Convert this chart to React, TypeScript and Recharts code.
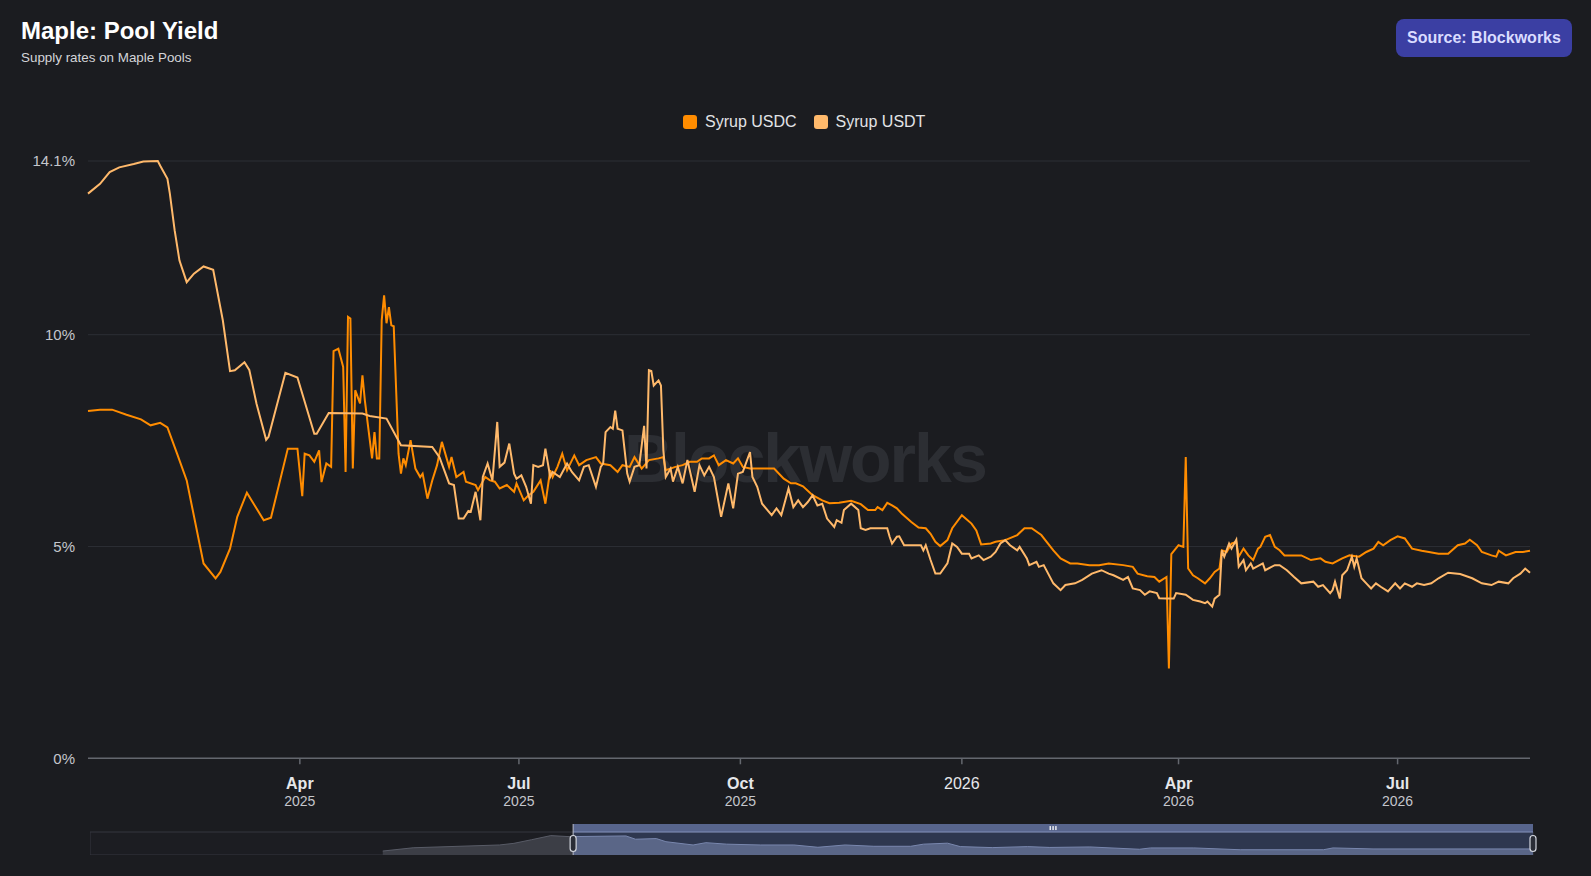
import React from "react";
import {
  LineChart,
  Line,
  XAxis,
  YAxis,
  CartesianGrid,
  ComposedChart,
  Area,
  ReferenceArea,
  ReferenceLine,
  ReferenceDot,
} from "recharts";

// [days since 2025-01-01, supply rate %]
const usdcSeries: [number, number][] = [
  [2, 8.2], [7, 8.23], [12, 8.23], [18, 8.11], [24, 8.0], [28, 7.86], [32, 7.92], [35, 7.81],
  [39, 7.19], [43, 6.56], [50, 4.6], [55, 4.25], [57, 4.4], [61, 4.95], [64, 5.7], [68, 6.27],
  [75, 5.62], [78, 5.68], [85, 7.31], [89, 7.31], [91, 6.19], [92, 7.19], [94, 7.15], [96, 7.0],
  [98, 7.27], [99, 6.52], [101, 6.96], [103, 6.88], [104, 9.61], [106, 9.67], [108, 9.24],
  [109, 6.76], [110, 10.42], [111, 10.38], [112, 6.84], [113, 8.69], [115, 8.38], [116, 9.04],
  [117, 8.45], [120, 7.08], [121, 7.7], [122, 7.08], [123, 7.08], [124, 10.34], [125, 10.93],
  [126, 10.27], [127, 10.65], [128, 10.22], [129, 10.2], [131, 7.19], [132, 6.72], [133, 7.08],
  [134, 6.92], [136, 7.51], [138, 6.84], [140, 6.64], [141, 6.72], [143, 6.13], [145, 6.56],
  [147, 6.92], [149, 7.47], [152, 6.88], [153, 7.11], [155, 6.64], [158, 6.76], [159, 6.53],
  [163, 6.45], [164, 6.33], [167, 6.64], [169, 6.56], [171, 6.53], [173, 6.37], [176, 6.45],
  [179, 6.29], [180, 6.49], [183, 6.09], [185, 6.21], [187, 6.29], [190, 6.56], [192, 6.01],
  [194, 6.8], [195, 6.64], [197, 6.88], [199, 7.19], [201, 6.8], [204, 7.15], [206, 6.92],
  [209, 7.04], [213, 7.11], [215, 6.96], [219, 6.92], [222, 6.76], [224, 6.92], [227, 6.88],
  [229, 7.11], [232, 6.84], [235, 7.04], [239, 7.08], [241, 7.11], [242, 6.8], [246, 6.88],
  [249, 6.92], [252, 7.0], [255, 7.0], [257, 7.08], [260, 7.08], [262, 7.15], [264, 6.92],
  [267, 7.04], [270, 6.96], [272, 7.08], [274, 6.88], [277, 6.84], [281, 6.84], [287, 6.84],
  [291, 6.6], [294, 6.49], [296, 6.49], [299, 6.42], [303, 6.21], [307, 6.09], [310, 6.02],
  [314, 6.03], [319, 6.08], [323, 6.0], [326, 5.86], [329, 5.86], [330, 5.93], [332, 5.86],
  [334, 6.03], [336, 5.97], [338, 5.9], [340, 5.78], [344, 5.58], [347, 5.45], [350, 5.43],
  [352, 5.3], [354, 5.11], [356, 5.01], [359, 5.15], [361, 5.43], [365, 5.74], [369, 5.54],
  [371, 5.38], [373, 5.05], [377, 5.07], [379, 5.11], [383, 5.15], [388, 5.27], [391, 5.43],
  [394, 5.43], [398, 5.27], [403, 4.91], [406, 4.72], [410, 4.6], [413, 4.6], [418, 4.56],
  [422, 4.56], [426, 4.6], [432, 4.56], [436, 4.52], [438, 4.36], [442, 4.3], [445, 4.28],
  [447, 4.17], [450, 4.28], [451, 2.12], [452, 4.82], [455, 5.03], [457, 4.99], [458, 7.11],
  [459, 4.48], [461, 4.32], [463, 4.25], [466, 4.13], [468, 4.25], [470, 4.4], [472, 4.48],
  [473, 4.91], [475, 4.87], [477, 5.07], [479, 5.11], [480, 4.76], [482, 4.95], [484, 4.79],
  [486, 4.68], [488, 4.95], [489, 4.99], [491, 5.23], [493, 5.27], [495, 4.99], [497, 4.91],
  [499, 4.79], [503, 4.79], [506, 4.79], [510, 4.68], [514, 4.72], [516, 4.64], [519, 4.6],
  [523, 4.72], [526, 4.79], [530, 4.76], [533, 4.87], [536, 4.95], [538, 5.11], [540, 5.03],
  [543, 5.15], [546, 5.24], [549, 5.19], [552, 4.95], [556, 4.9], [559, 4.87], [563, 4.83],
  [567, 4.83], [571, 5.03], [574, 5.07], [576, 5.16], [579, 5.03], [581, 4.87], [585, 4.79],
  [587, 4.76], [588, 4.9], [591, 4.79], [595, 4.87], [598, 4.87], [601, 4.9],
];

const usdtSeries: [number, number][] = [
  [2, 13.33], [7, 13.56], [11, 13.84], [15, 13.95], [21, 14.03], [25, 14.09], [31, 14.1],
  [32, 13.99], [35, 13.68], [36, 13.33], [38, 12.46], [40, 11.75], [43, 11.24], [46, 11.44],
  [50, 11.61], [54, 11.53], [58, 10.34], [61, 9.14], [63, 9.16], [67, 9.35], [69, 9.17],
  [72, 8.37], [76, 7.52], [77, 7.59], [84, 9.1], [89, 8.99], [96, 7.66], [97, 7.66], [102, 8.15],
  [116, 8.14], [119, 8.08], [126, 8.02], [132, 7.39], [145, 7.35], [148, 7.11], [152, 6.49],
  [154, 6.45], [156, 5.66], [158, 5.66], [160, 5.84], [161, 5.82], [163, 6.29], [165, 5.62],
  [166, 6.64], [168, 6.96], [170, 6.56], [172, 7.94], [173, 6.88], [175, 6.98], [177, 7.43],
  [179, 6.72], [180, 6.6], [182, 6.68], [184, 6.41], [186, 6.01], [187, 6.92], [189, 6.88],
  [191, 6.92], [192, 7.31], [194, 6.64], [195, 6.76], [198, 6.64], [201, 6.96], [203, 6.76],
  [206, 6.56], [208, 6.88], [210, 6.92], [213, 6.41], [215, 6.88], [216, 6.96], [217, 7.7],
  [219, 7.82], [220, 7.78], [221, 8.21], [222, 7.78], [224, 7.74], [226, 6.72], [227, 6.53],
  [229, 6.88], [231, 6.92], [233, 7.85], [234, 6.84], [235, 9.16], [236, 9.14], [237, 8.8],
  [239, 8.92], [240, 8.8], [241, 7.27], [242, 6.64], [244, 6.84], [245, 6.53], [247, 6.88],
  [249, 6.49], [251, 7.04], [254, 6.29], [256, 6.92], [258, 6.68], [260, 6.88], [262, 6.64],
  [265, 5.7], [268, 6.49], [270, 5.9], [272, 6.72], [274, 6.76], [277, 7.23], [278, 6.64],
  [280, 6.41], [282, 6.01], [286, 5.74], [288, 5.9], [290, 5.74], [293, 6.37], [295, 5.93],
  [297, 6.09], [299, 5.93], [301, 6.05], [303, 6.21], [305, 5.97], [307, 6.01], [309, 5.66],
  [312, 5.46], [313, 5.62], [315, 5.56], [316, 5.86], [319, 6.01], [322, 5.86], [323, 5.43],
  [325, 5.39], [327, 5.43], [334, 5.43], [335, 5.23], [336, 5.07], [338, 5.23], [339, 5.24],
  [341, 5.03], [348, 5.03], [349, 4.91], [350, 5.03], [352, 4.68], [354, 4.36], [356, 4.36],
  [359, 4.6], [361, 5.07], [363, 4.99], [365, 4.83], [368, 4.83], [369, 4.72], [372, 4.79],
  [374, 4.68], [377, 4.76], [379, 4.87], [381, 5.07], [383, 5.15], [385, 5.03], [388, 4.91],
  [389, 4.99], [392, 4.72], [393, 4.56], [396, 4.64], [397, 4.52], [399, 4.56], [403, 4.13],
  [406, 3.97], [408, 4.09], [412, 4.13], [415, 4.21], [419, 4.36], [423, 4.44], [426, 4.36],
  [428, 4.32], [432, 4.21], [434, 4.28], [436, 4.01], [439, 3.97], [441, 3.86], [443, 3.94],
  [446, 3.9], [447, 3.78], [450, 3.77], [453, 3.77], [454, 3.9], [458, 3.86], [461, 3.74],
  [464, 3.7], [466, 3.66], [467, 3.7], [469, 3.58], [470, 3.77], [472, 3.86], [473, 4.91],
  [474, 4.76], [476, 5.07], [477, 4.95], [479, 5.16], [480, 4.52], [482, 4.68], [483, 4.44],
  [485, 4.6], [486, 4.48], [490, 4.6], [491, 4.44], [495, 4.56], [497, 4.56], [500, 4.44],
  [503, 4.28], [506, 4.13], [511, 4.17], [513, 4.05], [515, 4.09], [518, 3.9], [519, 3.97],
  [520, 4.17], [522, 3.77], [523, 4.32], [525, 4.44], [527, 4.76], [528, 4.52], [529, 4.72],
  [531, 4.25], [533, 4.13], [535, 4.01], [537, 4.13], [539, 4.05], [542, 3.94], [545, 4.13],
  [547, 4.01], [549, 4.13], [552, 4.05], [554, 4.13], [557, 4.09], [560, 4.13], [563, 4.25],
  [567, 4.38], [572, 4.35], [577, 4.25], [581, 4.13], [585, 4.09], [588, 4.17], [592, 4.13],
  [594, 4.25], [597, 4.36], [599, 4.48], [601, 4.38],
];

// navigator overview (longer history), same day offsets
const navSeries: [number, number][] = [
  [-117, 2.4], [-98, 4.4], [-44, 6.1], [-35, 7.1], [-24, 9.3], [-12, 11.8], [1, 11.1],
  [2, 11.2], [35, 11.6], [41, 9.6], [54, 10.0], [60, 8.1], [77, 6.1], [85, 7.5], [98, 6.6],
  [119, 6.1], [140, 6.1], [155, 4.7], [172, 6.1], [190, 5.3], [213, 5.3], [221, 6.6],
  [236, 7.2], [244, 5.1], [264, 4.5], [286, 5.1], [300, 4.6], [325, 4.9], [356, 3.5],
  [363, 4.3], [390, 4.3], [419, 3.2], [471, 3.2], [477, 4.3], [502, 3.7], [602, 3.7],
];

const yTicks = [0, 5, 10, 14.1];
const xTickDates = ["2025-04-01", "2025-07-01", "2025-10-01", "2026-01-01", "2026-04-01", "2026-07-01"];
const xTickMain = ["Apr", "Jul", "Oct", "2026", "Apr", "Jul"];
const xTickSub = ["2025", "2025", "2025", "", "2026", "2026"];

const firstDay = 2;
const lastDay = 601;
const navFirstDay = -300;
const navLastDay = 602;

const dayOf = (iso: string) =>
  Math.round((Date.parse(iso) - Date.parse("2025-01-01")) / 86400000);
const tickDays = xTickDates.map(dayOf);

const toRows = (s: [number, number][]) => s.map(([t, v]) => ({ t, v }));
const usdcRows = toRows(usdcSeries);
const usdtRows = toRows(usdtSeries);
const navRows = navSeries.map(([t, v]) => ({
  t,
  before: t <= firstDay ? v : null,
  sel: t >= firstDay ? v : null,
}));

const FONT = '"Liberation Sans", Arial, Helvetica, sans-serif';
const USDC = "#ff8c00";
const USDT = "#ffb96b";

function DateTick({ x, y, payload }: any) {
  const i = tickDays.indexOf(payload.value);
  const sub = xTickSub[i];
  return (
    <g fontFamily={FONT}>
      <text x={x} y={y + 25} textAnchor="middle" fill="#e6e7ea" fontSize={16} fontWeight={sub ? 700 : 400}>
        {xTickMain[i]}
      </text>
      {sub && (
        <text x={x} y={y + 42} textAnchor="middle" fill="#c4c6cc" fontSize={14}>
          {sub}
        </text>
      )}
    </g>
  );
}

const Handle = (p: any) => (
  <rect x={p.cx - 3} y={p.cy - 8} width={6} height={16} rx={3} fill="#2a2d36" stroke="#d3d6de" strokeWidth={1.2} />
);

const Grip = (p: any) => (
  <g fill="#ffffff">
    <rect x={p.cx - 3.5} y={p.cy - 2} width={1.3} height={4} />
    <rect x={p.cx - 0.65} y={p.cy - 2} width={1.3} height={4} />
    <rect x={p.cx + 2.2} y={p.cy - 2} width={1.3} height={4} />
  </g>
);

function LegendItem({ color, label }: { color: string; label: string }) {
  return (
    <div style={{ display: "flex", alignItems: "center", marginRight: 17 }}>
      <div style={{ width: 14, height: 14, borderRadius: 3, background: color, marginRight: 8 }} />
      <span style={{ fontSize: 16, lineHeight: "18px", color: "#e2e3e6" }}>{label}</span>
    </div>
  );
}

export default function App() {
  return (
    <div
      style={{
        position: "absolute",
        left: 0,
        top: 0,
        width: 1591,
        height: 876,
        background: "#1b1c20",
        fontFamily: FONT,
        overflow: "hidden",
      }}
    >
      <div style={{ position: "absolute", left: 21, top: 17, fontSize: 24, lineHeight: "28px", fontWeight: 700, color: "#ffffff" }}>
        Maple: Pool Yield
      </div>
      <div style={{ position: "absolute", left: 21, top: 50, fontSize: 13.4, lineHeight: "16px", color: "#d4d5d9" }}>
        Supply rates on Maple Pools
      </div>
      <div
        style={{
          position: "absolute",
          left: 1396,
          top: 19,
          width: 176,
          height: 38,
          borderRadius: 8,
          background: "#3b3fa3",
          color: "#dadcff",
          fontSize: 16,
          fontWeight: 700,
          display: "flex",
          alignItems: "center",
          justifyContent: "center",
        }}
      >
        Source: Blockworks
      </div>

      <div style={{ position: "absolute", left: 683, top: 113, height: 18, display: "flex" }}>
        <LegendItem color={USDC} label="Syrup USDC" />
        <LegendItem color={USDT} label="Syrup USDT" />
      </div>

      <div
        style={{
          position: "absolute",
          left: 624,
          top: 424,
          fontSize: 68,
          lineHeight: "68px",
          fontWeight: 700,
          letterSpacing: -2,
          color: "#2c2e33",
          whiteSpace: "nowrap",
        }}
      >
        Blockworks
      </div>

      <div style={{ position: "absolute", left: 0, top: 0 }}>
        <LineChart width={1591} height={820} margin={{ top: 161, right: 61, bottom: 11.7, left: 28 }}>
          <CartesianGrid vertical={false} stroke="#2c2e34" />
          <XAxis
            type="number"
            dataKey="t"
            domain={[firstDay, lastDay]}
            ticks={tickDays}
            tick={<DateTick />}
            height={50}
            tickSize={6}
            tickMargin={0}
            stroke="#64676e"
            strokeWidth={1.5}
            interval={0}
          />
          <YAxis
            domain={[0, 14.1]}
            ticks={yTicks}
            tickFormatter={(v) => `${v}%`}
            width={60}
            axisLine={false}
            tickLine={false}
            tickSize={0}
            tickMargin={13}
            tick={{ fill: "#c4c6cc", fontSize: 15, fontFamily: FONT }}
            interval={0}
          />
          <Line
            data={usdcRows}
            dataKey="v"
            name="Syrup USDC"
            type="linear"
            stroke={USDC}
            strokeWidth={2}
            dot={false}
            activeDot={false}
            isAnimationActive={false}
          />
          <Line
            data={usdtRows}
            dataKey="v"
            name="Syrup USDT"
            type="linear"
            stroke={USDT}
            strokeWidth={2}
            dot={false}
            activeDot={false}
            isAnimationActive={false}
          />
        </LineChart>
      </div>

      <div style={{ position: "absolute", left: 90, top: 824 }}>
        <ComposedChart width={1448} height={31} data={navRows} margin={{ top: 0, right: 5, bottom: 0, left: 0 }}>
          <XAxis type="number" dataKey="t" domain={[navFirstDay, navLastDay]} hide />
          <YAxis domain={[0, 18.87]} hide />
          <ReferenceArea x1={navFirstDay} x2={navLastDay} y1={0} y2={14} fill="#1d1e23" stroke="#35373e" zIndex={-1} />
          <ReferenceArea x1={firstDay} x2={navLastDay} y1={0} y2={14} fill="#5b74b8" fillOpacity={0.3} zIndex={-1} />
          <Area
            dataKey="before"
            type="linear"
            fill="#3c3e46"
            fillOpacity={1}
            stroke="#585b66"
            strokeWidth={1}
            dot={false}
            activeDot={false}
            isAnimationActive={false}
          />
          <Area
            dataKey="sel"
            type="linear"
            fill="#5a6687"
            fillOpacity={1}
            stroke="#7987ae"
            strokeWidth={1}
            dot={false}
            activeDot={false}
            isAnimationActive={false}
          />
          <ReferenceArea x1={firstDay} x2={navLastDay} y1={14} y2={18.87} fill="#58658d" fillOpacity={1} />
          <ReferenceLine segment={[{ x: firstDay, y: 14 }, { x: navLastDay, y: 14 }]} stroke="#8190b8" strokeWidth={1} />
          <ReferenceLine x={firstDay} stroke="#b9bdc8" strokeWidth={1} />
          <ReferenceDot x={firstDay} y={7} r={3} shape={Handle} />
          <ReferenceDot x={navLastDay} y={7} r={3} shape={Handle} />
          <ReferenceDot x={(firstDay + navLastDay) / 2} y={16.4} r={3} shape={Grip} />
        </ComposedChart>
      </div>
    </div>
  );
}
